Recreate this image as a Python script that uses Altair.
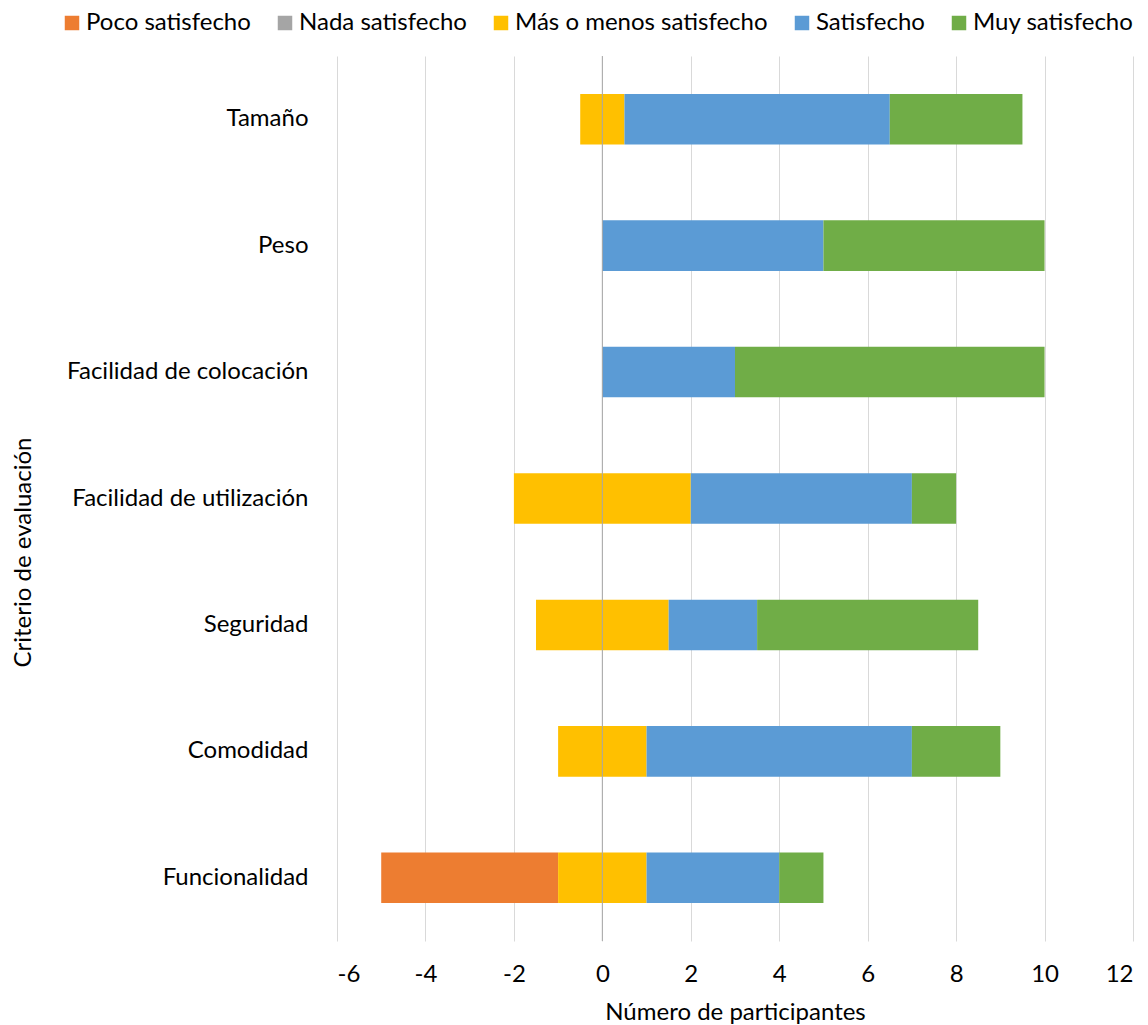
import altair as alt
import pandas as pd

# Survey results: number of participants per rating for each criterion
criterios = [
    "Tamaño",
    "Peso",
    "Facilidad de colocación",
    "Facilidad de utilización",
    "Seguridad",
    "Comodidad",
    "Funcionalidad",
]
niveles = [
    "Poco satisfecho",
    "Nada satisfecho",
    "Más o menos satisfecho",
    "Satisfecho",
    "Muy satisfecho",
]
colores = ["#ED7D31", "#A5A5A5", "#FFC000", "#5B9BD5", "#70AD47"]

poco = [0, 0, 0, 0, 0, 0, 4]
nada = [0, 0, 0, 0, 0, 0, 0]
mas_menos = [1, 0, 0, 4, 3, 2, 2]
satisfecho = [6, 5, 3, 5, 2, 6, 3]
muy = [3, 5, 7, 1, 5, 2, 1]

# Diverging layout: the neutral rating is split around zero,
# negative ratings extend to the left, positive ones to the right.
rows = []
for i, c in enumerate(criterios):
    counts = [poco[i], nada[i], mas_menos[i], satisfecho[i], muy[i]]
    start = -(poco[i] + nada[i] + mas_menos[i] / 2)
    for nivel, n in zip(niveles, counts):
        if n > 0:
            rows.append({"criterio": c, "nivel": nivel, "x0": start, "x1": start + n})
        start += n
df = pd.DataFrame(rows)

FONT = "Lato"
TXT = "#000000"

bars = alt.Chart(df).mark_bar().encode(
    y=alt.Y(
        "criterio:N",
        sort=criterios,
        scale=alt.Scale(paddingInner=0.6, paddingOuter=0.3),
        axis=alt.Axis(
            title="Criterio de evaluación",
            domain=False,
            ticks=False,
            tickSize=0,
            grid=False,
            labelPadding=29,
            labelLimit=400,
            labelFontSize=24,
            labelFont=FONT,
            labelColor=TXT,
            titleFontSize=24,
            titleFont=FONT,
            titleFontWeight="normal",
            titleColor=TXT,
            titleAngle=270,
            titleAlign="center",
            titleBaseline="alphabetic",
            titleX=-307,
            titleY=496,
        ),
    ),
    x=alt.X(
        "x0:Q",
        scale=alt.Scale(domain=[-6, 12], nice=False, zero=False),
        axis=alt.Axis(
            title="Número de participantes",
            values=list(range(-6, 13, 2)),
            labelExpr="'' + datum.value",
            domain=False,
            ticks=False,
            tickSize=0,
            grid=True,
            gridColor="#D9D9D9",
            gridWidth=1,
            labelBaseline="alphabetic",
            labelPadding=40,
            labelFontSize=24,
            labelFont=FONT,
            labelColor=TXT,
            titleFontSize=24,
            titleFont=FONT,
            titleFontWeight="normal",
            titleColor=TXT,
            titleBaseline="alphabetic",
            titleY=78,
        ),
    ),
    x2="x1:Q",
    color=alt.Color(
        "nivel:N",
        scale=alt.Scale(domain=niveles, range=colores),
        legend=alt.Legend(
            title=None,
            orient="none",
            direction="horizontal",
            legendX=-277,
            legendY=-45,
            symbolType="square",
            symbolSize=210,
            symbolStrokeWidth=0,
            labelFontSize=24,
            labelFont=FONT,
            labelColor=TXT,
            labelLimit=400,
            labelOffset=2,
            columnPadding=22,
        ),
    ),
)

zero = alt.Chart(pd.DataFrame({"x": [0]})).mark_rule(color="#A6A6A6", strokeWidth=1).encode(
    x=alt.X("x:Q")
)

chart = (
    alt.layer(bars, zero)
    .properties(
        width=796,
        height=885,
        autosize=alt.AutoSizeParams(type="none"),
        padding={"left": 337, "top": 56, "right": 15, "bottom": 84},
    )
    .configure_view(stroke=None)
)

chart.save("out.html", embed_options={"renderer": "svg", "actions": False})
